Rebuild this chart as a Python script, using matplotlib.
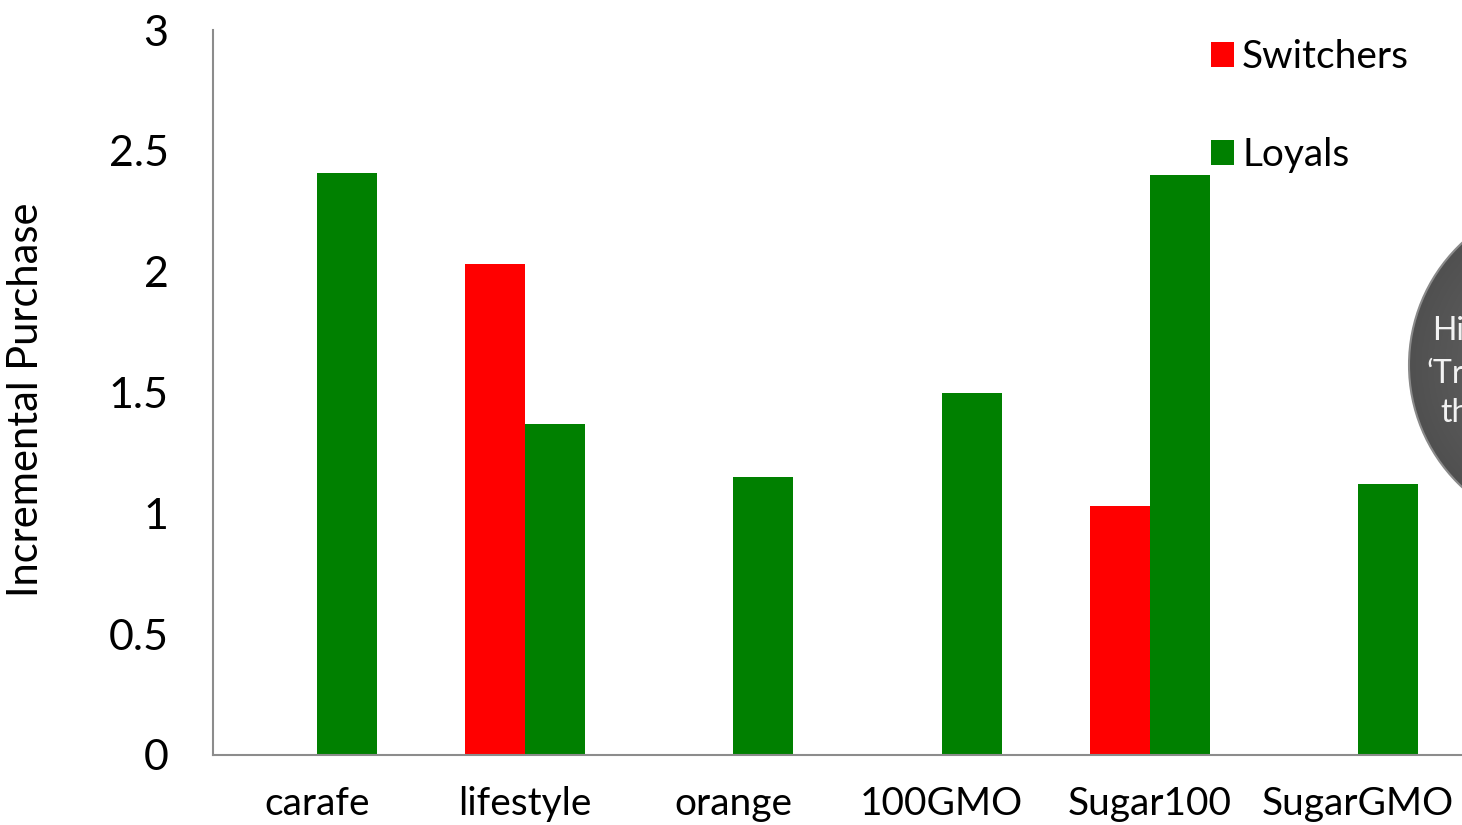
import numpy as np
import matplotlib.pyplot as plt
from matplotlib.patches import Circle
from matplotlib.colors import LinearSegmentedColormap

categories = ['carafe', 'lifestyle', 'orange', '100GMO', 'Sugar100', 'SugarGMO']
switchers = [0, 2.03, 0, 0, 1.03, 0]
loyals = [2.41, 1.37, 1.15, 1.50, 2.40, 1.12]
yticks = [0, 0.5, 1, 1.5, 2, 2.5, 3]

plt.rcParams['font.family'] = ['Lato', 'DejaVu Sans']

W, H = 1462, 825
fig = plt.figure(figsize=(W / 100, H / 100), dpi=100)
ax = fig.add_axes([213 / W, 1 - 755 / H, 1 - 213 / W, (755 - 30) / H])

x = np.arange(len(categories))
w = 60 / 208
ax.bar(x - w / 2, switchers, w, color='#ff0000', label='Switchers', zorder=2)
ax.bar(x + w / 2, loyals, w, color='#008000', label='Loyals', zorder=2)

ax.set_xlim(-0.5, len(categories) - 0.5)
ax.set_ylim(0, 3)
ax.set_yticks(yticks)
ax.set_yticklabels([f'{t:g}' for t in yticks], fontsize=31)
ax.set_xticks(x)
ax.set_xticklabels(categories, fontsize=28)
ax.tick_params(axis='y', length=0, pad=32)
ax.tick_params(axis='x', length=0, pad=22)
ax.set_ylabel('Incremental Purchase', fontsize=30)
ax.yaxis.set_label_coords(-168 / (W - 213), 0.49)

for s in ['top', 'right']:
    ax.spines[s].set_visible(False)
for s in ['left', 'bottom']:
    ax.spines[s].set_color('#8c8c8c')
    ax.spines[s].set_linewidth(1.5)

ax.legend(loc='upper left', bbox_to_anchor=(1176 / W, 1 - 4 / H),
          bbox_transform=fig.transFigure, frameon=False, fontsize=28,
          handlelength=0.6, handleheight=0.6, handletextpad=0.2,
          labelspacing=1.6)

# grey callout bubble on the right edge
ov = fig.add_axes([0, 0, 1, 1], zorder=5)
ov.set_xlim(0, W)
ov.set_ylim(H, 0)
ov.axis('off')
cx, cy, r = 1576, 365, 167
shade = LinearSegmentedColormap.from_list('shade', ['#6c6c6c', '#505050'])
gx, gy = np.meshgrid(np.linspace(-1, 1, 300), np.linspace(-1, 1, 300))
rad = np.clip(np.hypot(gx, gy), 0, 1)
img = ov.imshow(rad, cmap=shade, vmin=0, vmax=1,
                extent=(cx - r, cx + r, cy + r, cy - r), zorder=1)
ring = Circle((cx, cy), r, facecolor='none', edgecolor='#8a8a8a', lw=1.5, zorder=2)
ov.add_patch(ring)
img.set_clip_path(ring)
ov.set_xlim(0, W)
ov.set_ylim(H, 0)
for tx, ty, line in zip([1432, 1426, 1440], [331, 374, 413],
                        ['Higher', '\u2018Trial\u2019', 'than']):
    ov.text(tx, ty, line, color='#f2f2f2', fontsize=23,
            ha='left', va='center', zorder=3)

fig.savefig('out.png', dpi=100)
